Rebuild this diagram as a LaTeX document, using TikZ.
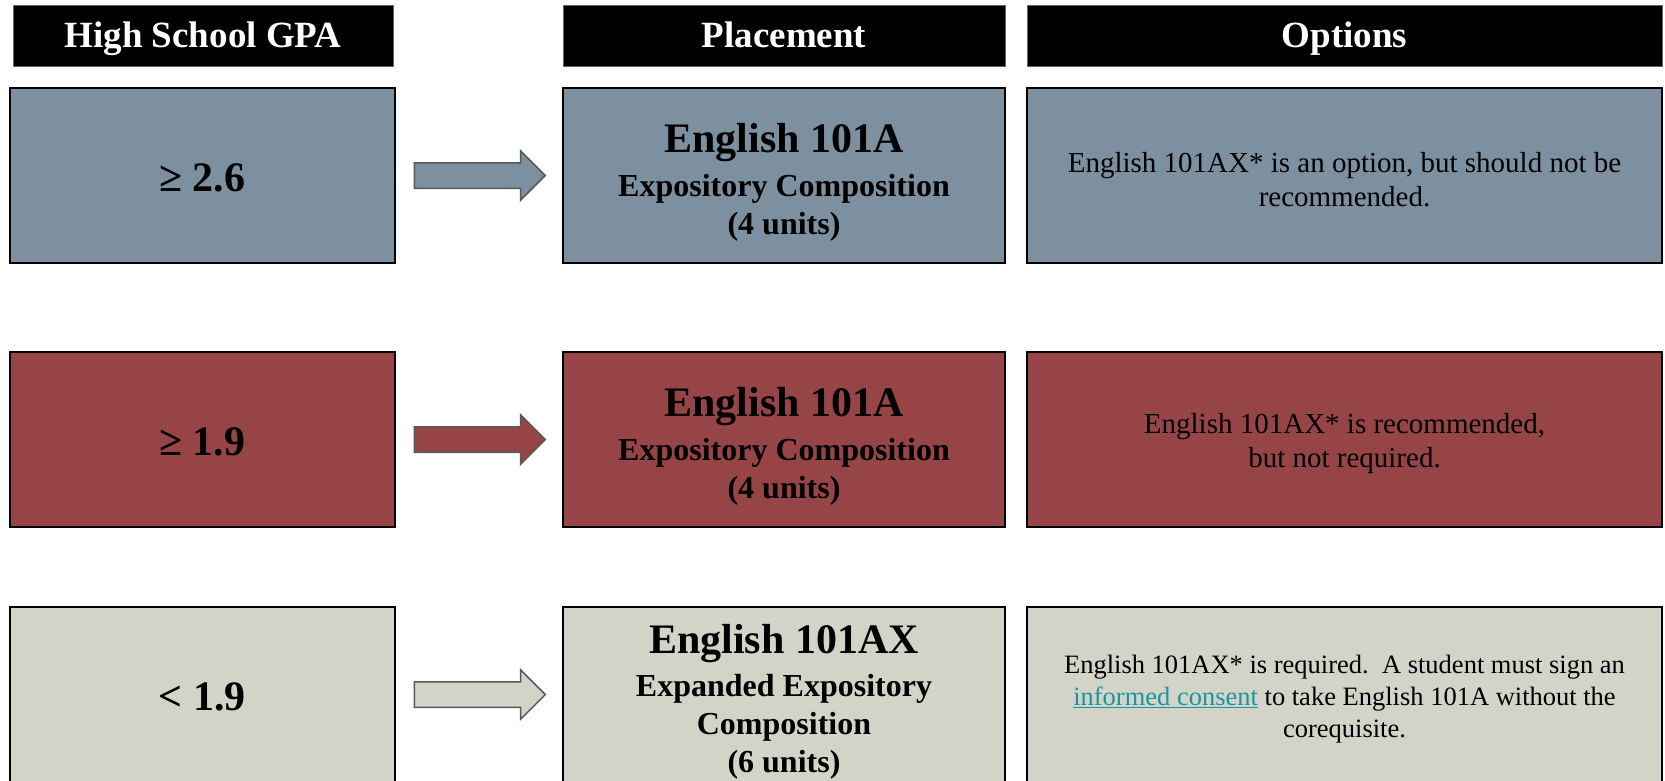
\documentclass[tikz,border=0pt]{standalone}
\usepackage{fontspec}
\setmainfont{Liberation Serif}
\usetikzlibrary{shapes.arrows,calc}
\definecolor{rowblue}{RGB}{125,144,159}
\definecolor{rowred}{RGB}{150,68,70}
\definecolor{rowgrey}{RGB}{211,212,199}
\definecolor{linkteal}{RGB}{23,150,164}
\begin{document}
\begin{tikzpicture}[x=1pt,y=-1pt,
	head/.style={draw=black!60,fill=black,text=white,inner sep=0,minimum height=61,
		text height=25,text depth=0,font=\fontsize{37}{44}\selectfont\bfseries},
	cell/.style={draw=black,line width=1.5,fill=#1,inner sep=0,minimum height=175},
	celltext/.style={align=center,inner sep=0},
	gpatext/.style={celltext,font=\fontsize{42}{50}\selectfont\bfseries},
	placetext/.style={celltext,font=\fontsize{32}{38}\selectfont\bfseries},
	opttext/.style={celltext,font=\fontsize{29}{34}\selectfont},
	blockarrow/.style={single arrow,draw=black!65,line width=1.5,fill=#1,inner xsep=0,inner ysep=12,
		minimum width=48,minimum height=131,single arrow head extend=12,anchor=tail}]
		\useasboundingbox (0,0) rectangle (1665,781);
		% headers
		\node[head,minimum width=380] (hgpa) at (203,35.5) {High School GPA};
		\node[head,minimum width=442] (hplace) at (784,35.5) {Placement};
		\node[head,minimum width=635] (hopt) at (1344.5,35.5) {Options};
		% boxes
		\node[cell=rowblue,minimum width=385] (gpa1) at (202.3,175.5) {};
		\node[cell=rowblue,minimum width=442] (place1) at (784,175.5) {};
		\node[cell=rowblue,minimum width=635] (opt1) at (1344.5,175.5) {};
		\node[cell=rowred,minimum width=385] (gpa2) at (202.3,439.6) {};
		\node[cell=rowred,minimum width=442] (place2) at (784,439.6) {};
		\node[cell=rowred,minimum width=635] (opt2) at (1344.5,439.6) {};
		\node[cell=rowgrey,minimum width=385] (gpa3) at (202.3,694.5) {};
		\node[cell=rowgrey,minimum width=442] (place3) at (784,694.5) {};
		\node[cell=rowgrey,minimum width=635] (opt3) at (1344.5,694.5) {};
		% texts
		\node[gpatext] (gpa1txt) at ($(gpa1.center)+(0,2)$) {≥ 2.6};
		\node[gpatext] (gpa2txt) at ($(gpa2.center)+(0,2)$) {≥ 1.9};
		\node[gpatext] (gpa3txt) at ($(gpa3.center)+(0,2)$) {< 1.9};
		\node[placetext] (place1txt) at ($(place1.center)+(0,7)$)
			{{\fontsize{42}{47}\selectfont English 101A}\\[6pt]Expository Composition\\(4 units)};
		\node[placetext] (place2txt) at ($(place2.center)+(0,7)$)
			{{\fontsize{42}{47}\selectfont English 101A}\\[6pt]Expository Composition\\(4 units)};
		\node[placetext] (place3txt) at ($(place3.center)+(0,7.5)$)
			{{\fontsize{42}{47}\selectfont English 101AX}\\[4.5pt]Expanded Expository\\Composition\\(6 units)};
		\node[opttext] (opt1txt) at ($(opt1.center)+(0,4)$)
			{English 101AX* is an option, but should not be\\recommended.};
		\node[opttext] (opt2txt) at ($(opt2.center)+(0,4)$)
			{English 101AX* is recommended,\\but not required.};
		\node[opttext,font=\fontsize{26.5}{32}\selectfont] (opt3txt) at ($(opt3.center)+(0,5)$)
			{English 101AX* is required.\ \ A student must sign an\\
			{\color{linkteal}\underline{informed consent}} to take English 101A without the\\corequisite.};
		% arrows
		\node[blockarrow=rowblue] (arr1) at ($(gpa1.east)+(18,0)$) {};
		\node[blockarrow=rowred] (arr2) at ($(gpa2.east)+(18,0)$) {};
		\node[blockarrow=rowgrey] (arr3) at ($(gpa3.east)+(18,0)$) {};
\end{tikzpicture}
\end{document}
